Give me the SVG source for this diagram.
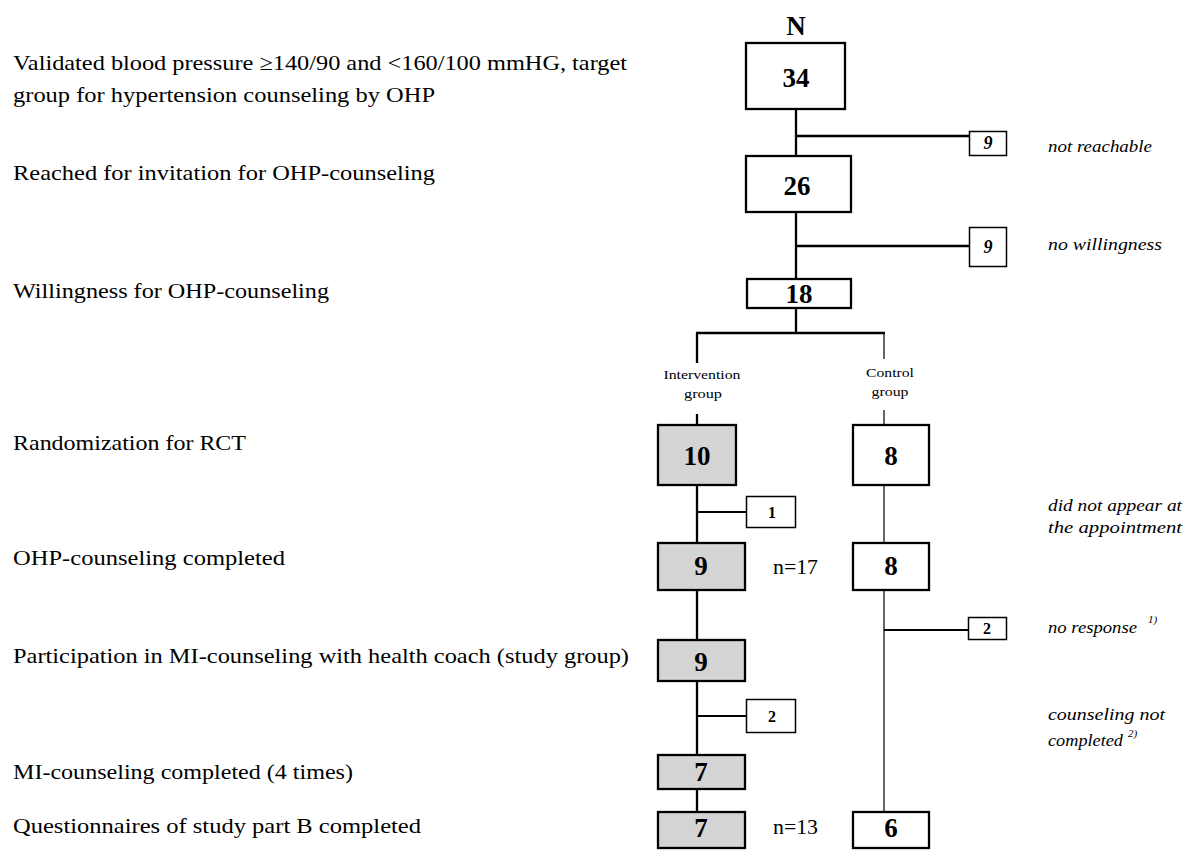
<svg xmlns="http://www.w3.org/2000/svg" width="1187" height="851" viewBox="0 0 1187 851">
<style>
text { font-family: "Liberation Serif", "Times New Roman", serif; fill: #000; }
.stage { font-size: 22px; }
.big { font-size: 27px; font-weight: bold; text-anchor: middle; }
.small { font-size: 16px; font-weight: bold; text-anchor: middle; }
.smalli { font-size: 18px; font-weight: bold; font-style: italic; text-anchor: middle; }
.note { font-size: 17px; font-style: italic; }
.sup { font-size: 11px; font-style: italic; }
.grp { font-size: 13px; text-anchor: middle; }
.nn { font-size: 21px; }
.box { fill: #fff; stroke: #000; stroke-width: 2.3; }
.gbox { fill: #d4d4d4; stroke: #000; stroke-width: 2.3; }
.sbox { fill: #fff; stroke: #000; stroke-width: 1.5; }
.thick { stroke: #000; stroke-width: 2.3; fill: none; }
.mid { stroke: #000; stroke-width: 1.8; fill: none; }
.thin { stroke: #000; stroke-width: 1.2; fill: none; }
</style>
<rect width="1187" height="851" fill="#fff"/>

<g id="stage-labels">
  <text class="stage" x="13" y="70" textLength="614" lengthAdjust="spacingAndGlyphs">Validated blood pressure ≥140/90 and &lt;160/100 mmHG, target</text>
  <text class="stage" x="13" y="102" textLength="422" lengthAdjust="spacingAndGlyphs">group for hypertension counseling by OHP</text>
  <text class="stage" x="13" y="180" textLength="422" lengthAdjust="spacingAndGlyphs">Reached for invitation for OHP-counseling</text>
  <text class="stage" x="13" y="298" textLength="316" lengthAdjust="spacingAndGlyphs">Willingness for OHP-counseling</text>
  <text class="stage" x="13" y="450" textLength="233" lengthAdjust="spacingAndGlyphs">Randomization for RCT</text>
  <text class="stage" x="13" y="565" textLength="272" lengthAdjust="spacingAndGlyphs">OHP-counseling completed</text>
  <text class="stage" x="13" y="663" textLength="616" lengthAdjust="spacingAndGlyphs">Participation in MI-counseling with health coach (study group)</text>
  <text class="stage" x="13" y="779" textLength="340" lengthAdjust="spacingAndGlyphs">MI-counseling completed (4 times)</text>
  <text class="stage" x="13" y="833" textLength="408" lengthAdjust="spacingAndGlyphs">Questionnaires of study part B completed</text>
</g>

<g id="connectors">
  <line class="thick" x1="796" y1="110" x2="796" y2="155"/>
  <line class="thick" x1="796" y1="136" x2="969" y2="136"/>
  <line class="thick" x1="796" y1="213" x2="796" y2="278"/>
  <line class="thick" x1="796" y1="246" x2="969" y2="246"/>
  <line class="thick" x1="796" y1="309" x2="796" y2="333"/>
  <line class="thick" x1="696" y1="333" x2="885" y2="333"/>
  <line class="thick" x1="697" y1="333" x2="697" y2="363"/>
  <line class="thin" x1="884" y1="333" x2="884" y2="359"/>
  <line class="thick" x1="697" y1="414" x2="697" y2="424"/>
  <line class="thin" x1="884" y1="410" x2="884" y2="424"/>
  <line class="thick" x1="697" y1="486" x2="697" y2="542"/>
  <line class="mid" x1="697" y1="512" x2="746" y2="512"/>
  <line class="thick" x1="697" y1="591" x2="697" y2="639"/>
  <line class="thick" x1="697" y1="682" x2="697" y2="754"/>
  <line class="mid" x1="697" y1="716" x2="746" y2="716"/>
  <line class="thick" x1="697" y1="790" x2="697" y2="811"/>
  <line class="thin" x1="884" y1="486" x2="884" y2="542"/>
  <line class="thin" x1="884" y1="591" x2="884" y2="811"/>
  <line class="mid" x1="884" y1="630" x2="968" y2="630"/>
</g>

<text class="big" x="796" y="35">N</text>

<g id="n34"><rect class="box" x="746" y="43" width="99" height="66"/><text class="big" x="796" y="87">34</text></g>
<g id="drop-not-reachable"><rect class="sbox" x="969.5" y="131.5" width="37" height="24"/><text class="smalli" x="988" y="149">9</text></g>
<g id="n26"><rect class="box" x="746" y="156" width="105" height="56"/><text class="big" x="797" y="195">26</text></g>
<g id="drop-no-willingness"><rect class="sbox" x="969.5" y="227.5" width="37" height="39"/><text class="smalli" x="988" y="253">9</text></g>
<g id="n18"><rect class="box" x="747" y="279" width="104" height="29"/><text class="big" x="799" y="303">18</text></g>

<g id="intervention-label"><text class="grp" x="702" y="379" textLength="77" lengthAdjust="spacingAndGlyphs">Intervention</text><text class="grp" x="703" y="398" textLength="38" lengthAdjust="spacingAndGlyphs">group</text></g>
<g id="control-label"><text class="grp" x="890" y="377" textLength="48" lengthAdjust="spacingAndGlyphs">Control</text><text class="grp" x="890" y="396" textLength="37" lengthAdjust="spacingAndGlyphs">group</text></g>

<g id="i10"><rect class="gbox" x="658" y="425" width="78" height="60"/><text class="big" x="697" y="465">10</text></g>
<g id="c8a"><rect class="box" x="853" y="425" width="76" height="60"/><text class="big" x="891" y="465">8</text></g>
<g id="drop-i1"><rect class="sbox" x="746.5" y="496.5" width="49" height="31"/><text class="small" x="772" y="518">1</text></g>
<g id="i9a"><rect class="gbox" x="658" y="543" width="87" height="47"/><text class="big" x="701" y="575">9</text></g>
<g id="c8b"><rect class="box" x="853" y="543" width="76" height="47"/><text class="big" x="891" y="575">8</text></g>
<text class="nn" x="773" y="574" textLength="45" lengthAdjust="spacingAndGlyphs">n=17</text>
<g id="drop-c2"><rect class="sbox" x="968.5" y="617.5" width="38" height="22"/><text class="small" x="987" y="634">2</text></g>
<g id="i9b"><rect class="gbox" x="658" y="640" width="87" height="41"/><text class="big" x="701" y="671">9</text></g>
<g id="drop-i2"><rect class="sbox" x="746.5" y="699.5" width="49" height="33"/><text class="small" x="772" y="722">2</text></g>
<g id="i7a"><rect class="gbox" x="658" y="755" width="87" height="34"/><text class="big" x="701" y="781">7</text></g>
<g id="i7b"><rect class="gbox" x="658" y="812" width="87" height="36"/><text class="big" x="701" y="837">7</text></g>
<g id="c6"><rect class="box" x="853" y="812" width="76" height="36"/><text class="big" x="891" y="837">6</text></g>
<text class="nn" x="773" y="834" textLength="45" lengthAdjust="spacingAndGlyphs">n=13</text>

<g id="exclusion-labels">
  <text class="note" x="1048" y="152" textLength="104" lengthAdjust="spacingAndGlyphs">not reachable</text>
  <text class="note" x="1048" y="250" textLength="114" lengthAdjust="spacingAndGlyphs">no willingness</text>
  <text class="note" x="1048" y="511" textLength="134" lengthAdjust="spacingAndGlyphs">did not appear at</text>
  <text class="note" x="1048" y="533" textLength="134" lengthAdjust="spacingAndGlyphs">the appointment</text>
  <text class="note" x="1048" y="633" textLength="89" lengthAdjust="spacingAndGlyphs">no response</text>
  <text class="sup" x="1148" y="623">1)</text>
  <text class="note" x="1048" y="720" textLength="117" lengthAdjust="spacingAndGlyphs">counseling not</text>
  <text class="note" x="1048" y="746" textLength="75" lengthAdjust="spacingAndGlyphs">completed</text>
  <text class="sup" x="1128" y="737">2)</text>
</g>
</svg>
